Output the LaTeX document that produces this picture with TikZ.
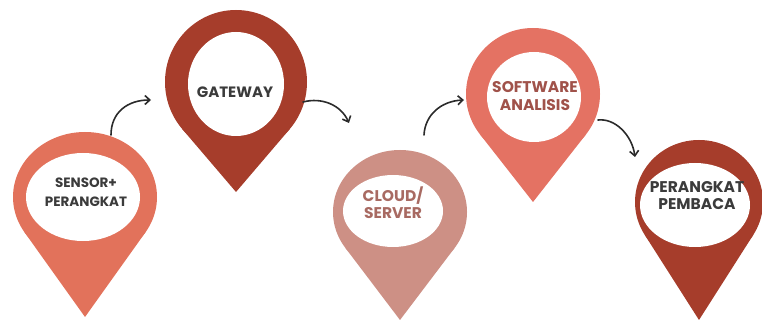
\documentclass[tikz,border=0pt]{standalone}
\usepackage{fontspec}
\setmainfont{Poppins}
\usetikzlibrary{arrows.meta}
\definecolor{coral}{HTML}{E2725B}
\definecolor{rust}{HTML}{A63D2B}
\definecolor{rose}{HTML}{CD9085}
\definecolor{coraltwo}{HTML}{E47263}
\definecolor{txtdark}{HTML}{3B3B3B}
\definecolor{txtrose}{HTML}{A86A62}
\definecolor{txtred}{HTML}{A0524A}
\definecolor{arrowc}{HTML}{2B2B2B}
\newcommand\drawpin[6]{%
  \pgfmathsetmacro\pD{(#5-#2)/#4}%
  \pgfmathsetmacro\pS{sqrt(1-1/(\pD*\pD))}%
  \fill[#6] (#1,#2) ellipse [x radius=#3pt, y radius=#4pt];
  \fill[#6] ({#1-#3*\pS},{#2+#4/\pD}) -- (#1,#5) -- ({#1+#3*\pS},{#2+#4/\pD}) -- cycle;
}
\tikzset{
  lbl/.style={align=center, inner sep=0pt},
  hand/.style={draw=arrowc, line width=1.6pt, line cap=round, -{Straight Barb[length=5pt,width=9pt]}}
}
\begin{document}
\begin{tikzpicture}[x=1pt,y=-1pt]
\useasboundingbox (0,0) rectangle (762,320);
% pins
\drawpin{85}{197}{72}{65}{317}{coral}
\fill[white] (83,197) ellipse [x radius=57pt, y radius=44pt];
\drawpin{236}{82}{71}{72}{192}{rust}
\fill[white] (236,84) ellipse [x radius=48pt, y radius=52pt];
\drawpin{400}{212}{67}{62}{320}{rose}
\fill[white] (393,211) ellipse [x radius=50pt, y radius=36pt];
\drawpin{533}{94}{67}{66}{202}{coraltwo}
\fill[white] (534,97) ellipse [x radius=47pt, y radius=45pt];
\drawpin{699}{202}{64}{62}{320}{rust}
\fill[white] (695,205) ellipse [x radius=55pt, y radius=42pt];
% labels
\node[lbl, text=txtdark, font=\bfseries\fontsize{13.5}{19}\selectfont] (sensor) at (86,192) {SENSOR+\\PERANGKAT};
\node[lbl, text=txtdark, font=\bfseries\fontsize{15}{18}\selectfont] (gateway) at (235,92) {GATEWAY};
\node[lbl, text=txtrose, font=\bfseries\fontsize{15.5}{17}\selectfont] (cloud) at (393,203) {CLOUD/\\SERVER};
\node[lbl, text=txtred, font=\bfseries\fontsize{15.5}{18}\selectfont] (software) at (535,96) {SOFTWARE\\ANALISIS};
\node[lbl, text=txtdark, font=\bfseries\fontsize{15.5}{17}\selectfont] (reader) at (697,196) {PERANGKAT\\PEMBACA};
% arrow end points
\coordinate (a1s) at (111,135); \coordinate (a1e) at (151,100);
\coordinate (a2s) at (303,102); \coordinate (a2e) at (349,123);
\coordinate (a3s) at (424,135); \coordinate (a3e) at (464,100);
\coordinate (a4s) at (598,120); \coordinate (a4e) at (635,157);
\draw[hand] (a1s) .. controls (111,112) and (128,100) .. (a1e);
\draw[hand] (a2s) .. controls (322,97) and (341,105) .. (a2e);
\draw[hand] (a3s) .. controls (425,115) and (441,101) .. (a3e);
\draw[hand] (a4s) .. controls (615,118) and (632,135) .. (a4e);
\end{tikzpicture}
\end{document}
